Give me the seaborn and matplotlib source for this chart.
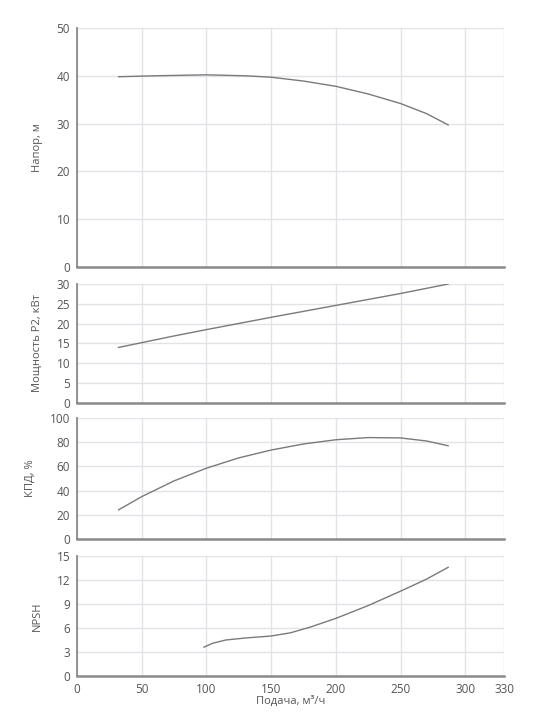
import matplotlib
matplotlib.use('Agg')
import matplotlib.pyplot as plt
import pandas as pd
import seaborn as sns

sns.set_style('white')
plt.rcParams['font.family'] = ['Open Sans', 'DejaVu Sans']

# Curves (flow in m3/h)
head_q = [32, 60, 100, 130, 150, 175, 200, 225, 250, 270, 287]
head_h = [39.8, 40.0, 40.2, 40.0, 39.7, 38.9, 37.8, 36.2, 34.2, 32.1, 29.7]

power_q = [32, 75, 100, 150, 200, 250, 287]
power_p = [14.0, 16.9, 18.5, 21.6, 24.6, 27.6, 30.0]

eff_q = [32, 50, 75, 100, 125, 150, 175, 200, 225, 250, 270, 287]
eff_e = [24, 35, 48, 58.5, 67, 73.5, 78.5, 82, 83.8, 83.5, 81, 77]

npsh_q = [98, 105, 115, 130, 150, 165, 180, 200, 225, 250, 270, 287]
npsh_v = [3.6, 4.1, 4.5, 4.75, 5.0, 5.4, 6.1, 7.2, 8.8, 10.6, 12.1, 13.6]

x_ticks = [0, 50, 100, 150, 200, 250, 300, 330]

panels = [
    ('Напор, м', head_q, head_h, 50, [0, 10, 20, 30, 40, 50], (0.9613, 0.6307)),
    ('Мощность P2, кВт', power_q, power_p, 30, [0, 5, 10, 15, 20, 25, 30], (0.6072, 0.4426)),
    ('КПД, %', eff_q, eff_e, 100, [0, 20, 40, 60, 80, 100], (0.4219, 0.2545)),
    ('NPSH', npsh_q, npsh_v, 15, [0, 3, 6, 9, 12, 15], (0.2310, 0.0650)),
]

fig = plt.figure(figsize=(5.5, 7.23), dpi=100)
grid_c = '#e2e2e8'
spine_c = '#8a8a8a'
text_c = '#555555'

for i, (label, q, v, ymax, yticks, (top, bottom)) in enumerate(panels):
    ax = fig.add_axes([0.14, bottom, 0.7764, top - bottom])
    df = pd.DataFrame({'q': q, 'v': v})
    sns.lineplot(data=df, x='q', y='v', ax=ax, color='#7a7a7a', linewidth=1.0)
    ax.set_xlim(0, 330)
    ax.set_ylim(0, ymax)
    ax.set_xticks(x_ticks)
    ax.set_yticks(yticks)
    ax.grid(True, color=grid_c, linewidth=1)
    ax.set_axisbelow(True)
    for s in ['top', 'right']:
        ax.spines[s].set_visible(False)
    ax.spines['left'].set_color(spine_c)
    ax.spines['left'].set_linewidth(1.3)
    ax.spines['bottom'].set_color(spine_c)
    ax.spines['bottom'].set_linewidth(1.8)
    ax.tick_params(axis='both', colors=spine_c, labelcolor=text_c, labelsize=8.5,
                   length=4, width=1, pad=1)
    ax.set_ylabel(label, fontsize=8, color=text_c, labelpad=10)
    if i < 3:
        ax.set_xticklabels([])
        ax.set_xlabel('')
    else:
        ax.set_xlabel('Подача, м³/ч', fontsize=8, color=text_c, labelpad=0)

fig.savefig('out.png', dpi=100)
